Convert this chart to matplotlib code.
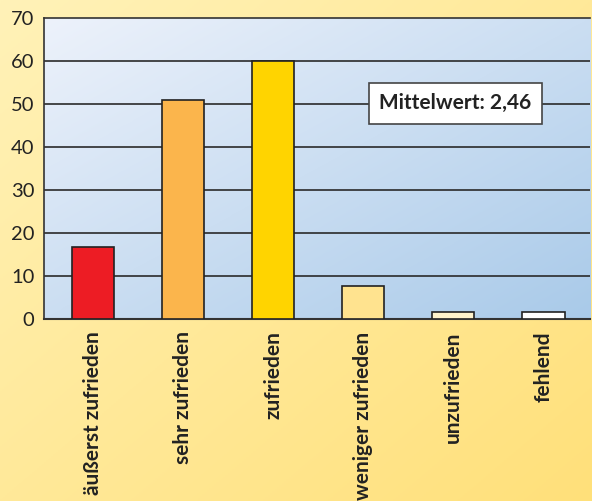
import numpy as np
import matplotlib
matplotlib.use("Agg")
import matplotlib.pyplot as plt
from matplotlib.colors import LinearSegmentedColormap

categories = ["äußerst zufrieden", "sehr zufrieden", "zufrieden",
              "weniger zufrieden", "unzufrieden", "fehlend"]
values = [16.7, 50.9, 60.0, 7.7, 1.6, 1.6]
bar_colors = ["#ED1C24", "#FBB54C", "#FFD400", "#FFE38F", "#FFF3CC", "#FFFFFF"]
yticks = [0, 10, 20, 30, 40, 50, 60, 70]
mean_label = "Mittelwert: 2,46"

plt.rcParams['font.family'] = ['Lato', 'DejaVu Sans']

fig = plt.figure(figsize=(5.92, 5.01), dpi=100)

def diag_gradient(n=256):
    x = np.linspace(0, 1, n)
    X, Y = np.meshgrid(x, x)
    return (X + (1 - Y)) / 2.0

# figure background gradient
bgax = fig.add_axes([0, 0, 1, 1], zorder=-10)
bgax.axis("off")
cmap_fig = LinearSegmentedColormap.from_list("f", ["#FFF2B8", "#FFE07A"])
bgax.imshow(diag_gradient(), cmap=cmap_fig, extent=[0, 1, 0, 1],
            aspect="auto", origin="lower")
bgax.set_xlim(0, 1); bgax.set_ylim(0, 1)

ax = fig.add_axes([0.0743, 0.3633, 0.9227, 0.6007])
ax.set_facecolor("none")
cmap_ax = LinearSegmentedColormap.from_list("a", ["#EDF2FB", "#A9CAE9"])
ax.imshow(diag_gradient(), cmap=cmap_ax, extent=[0, 1, 0, 1],
          transform=ax.transAxes, aspect="auto", origin="lower", zorder=0)

x = np.arange(len(categories))
ax.set_xlim(-0.544, 5.52)
ax.set_ylim(0, 70)
for yv in yticks[1:-1]:
    ax.axhline(yv, color="#2a2a2a", lw=1.2, zorder=1)
ax.bar(x, values, width=0.47, color=bar_colors, edgecolor="#222222",
       linewidth=1.2, zorder=3)

ax.set_yticks(yticks)
ax.set_yticklabels([str(v) for v in yticks], fontsize=14.5, color="#222222")
ax.set_xticks(x)
ax.set_xticklabels(categories, rotation=90, fontsize=15, fontweight="bold",
                   color="#222222", va="top")
ax.tick_params(axis="both", length=0, pad=7)
ax.tick_params(axis="x", pad=9)

for side in ["left", "bottom", "top"]:
    ax.spines[side].set_color("#333333")
    ax.spines[side].set_linewidth(1.2)
ax.spines["bottom"].set_linewidth(1.5)
ax.spines["right"].set_visible(False)

ax.text(4.02, 50.2, mean_label, ha="center", va="center", fontsize=15,
        fontweight="bold", color="#222222", zorder=5,
        bbox=dict(boxstyle="square,pad=0.5", facecolor="white",
                  edgecolor="#444444", linewidth=1.2))

fig.savefig("out.png", dpi=100)
